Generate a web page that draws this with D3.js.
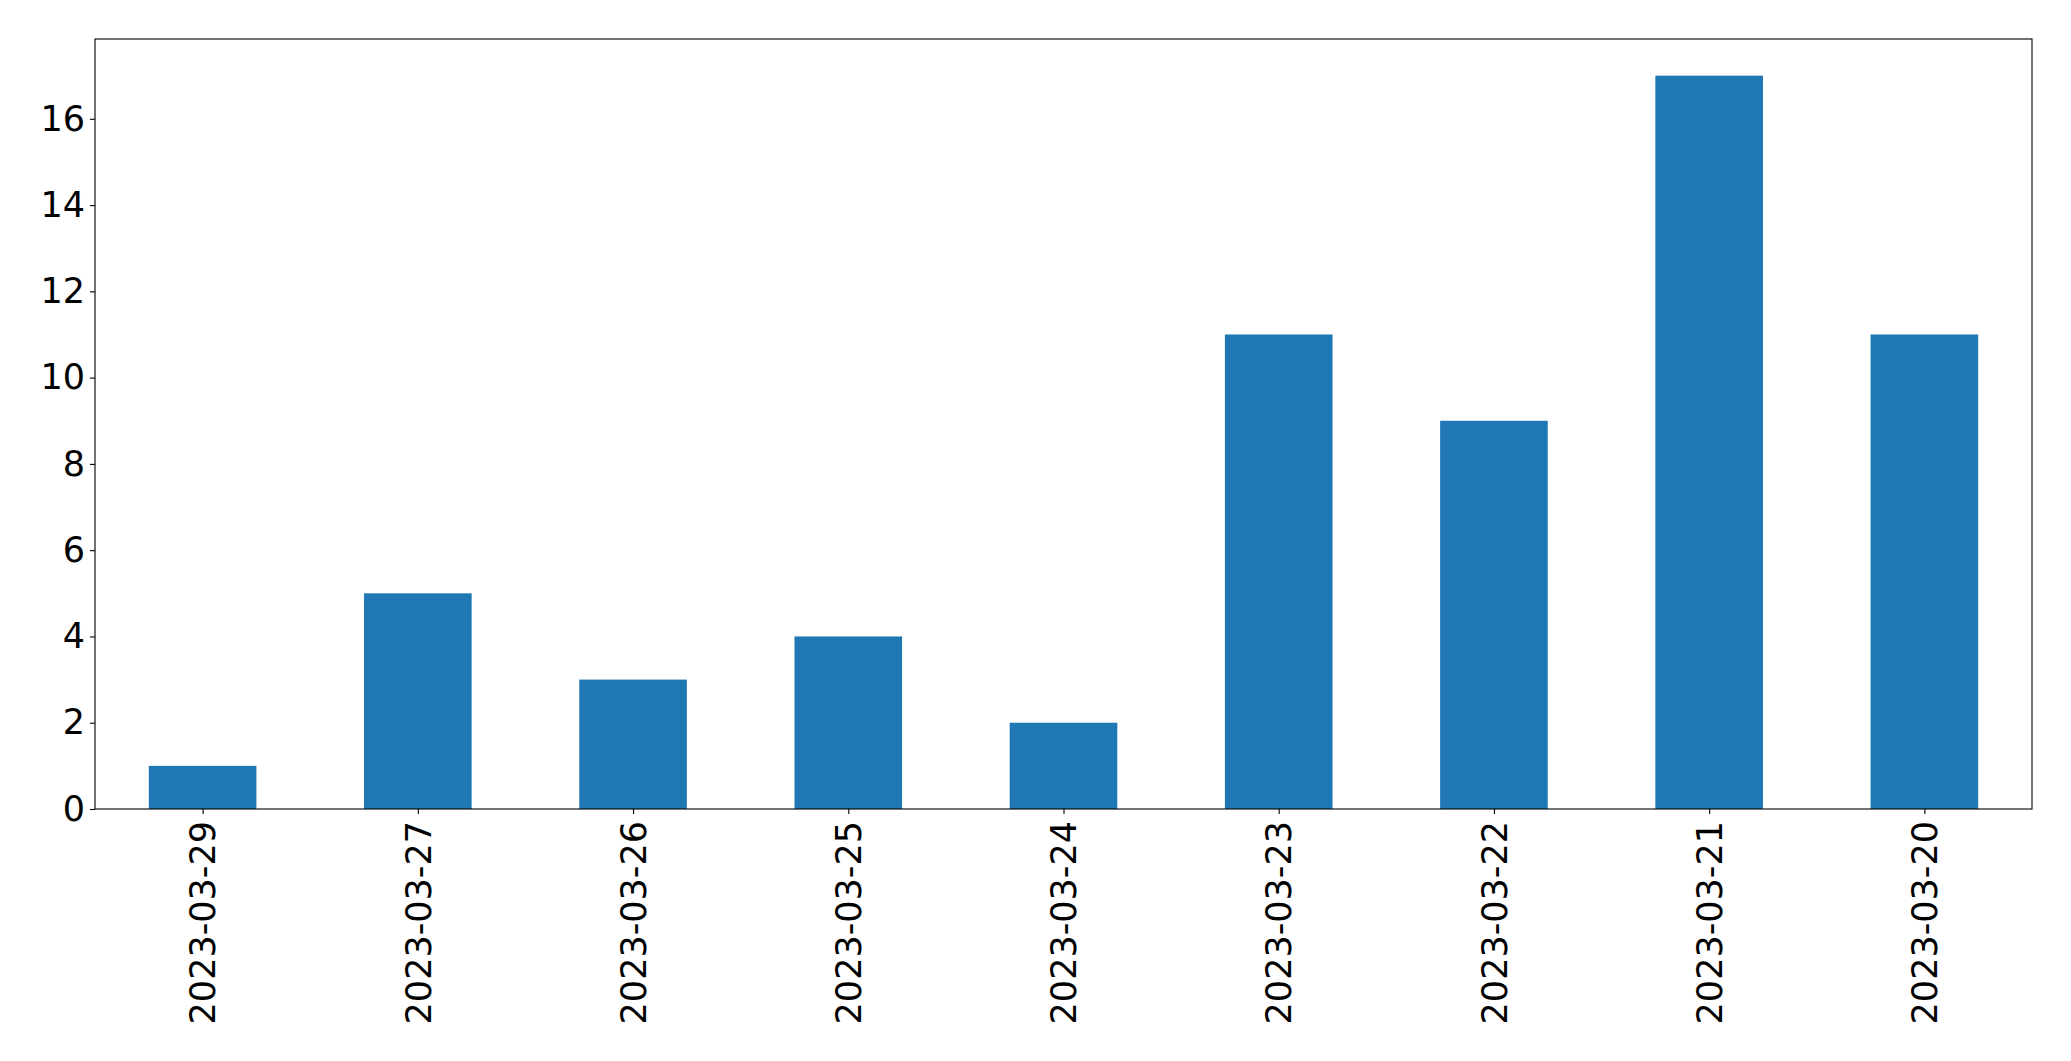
<!DOCTYPE html>
<html>
<head>
<meta charset="utf-8">
<script src="https://cdn.jsdelivr.net/npm/d3@7"></script>
<style>
  html, body { margin: 0; padding: 0; background: #fff; }
  svg { display: block; }
  text { font-family: "DejaVu Sans", sans-serif; fill: #000; }
</style>
</head>
<body>
<svg id="chart" width="2071" height="1061"></svg>
<script>
const categories = ["2023-03-29","2023-03-27","2023-03-26","2023-03-25","2023-03-24","2023-03-23","2023-03-22","2023-03-21","2023-03-20"];
const values = [1, 5, 3, 4, 2, 11, 9, 17, 11];
const yTicks = [0, 2, 4, 6, 8, 10, 12, 14, 16];

const W = 2071, H = 1061;
const margin = {left: 95, right: 39, top: 39, bottom: 252};
const svg = d3.select("#chart");
const iw = W - margin.left - margin.right;
const ih = H - margin.top - margin.bottom;
const g = svg.append("g").attr("transform", `translate(${margin.left},${margin.top})`);

const x = d3.scaleLinear().domain([-0.5, categories.length - 0.5]).range([0, iw]);
const yMax = d3.max(values) * 1.05;
const y = d3.scaleLinear().domain([0, yMax]).range([ih, 0]);
const bw = x(0.5) - x(0);

g.selectAll("rect.bar").data(values).join("rect")
  .attr("class", "bar")
  .attr("x", (d, i) => x(i) - bw / 2)
  .attr("width", bw)
  .attr("y", d => y(d))
  .attr("height", d => y(0) - y(d))
  .attr("fill", "#1f77b4");

const fs = 35;
// Y axis
const yAxis = d3.axisLeft(y).tickValues(yTicks).tickSize(5).tickPadding(5).tickFormat(d3.format("d"));
const ya = g.append("g").call(yAxis);
ya.select(".domain").remove();
ya.selectAll("line").attr("stroke", "#000").attr("stroke-width", 1.1);
ya.selectAll("text").style("font-size", fs + "px").attr("font-family", "DejaVu Sans");

// X axis
const xAxis = d3.axisBottom(x).tickValues(d3.range(categories.length)).tickSize(5).tickFormat(i => categories[i]);
const xa = g.append("g").attr("transform", `translate(0,${ih})`).call(xAxis);
xa.select(".domain").remove();
xa.selectAll("line").attr("stroke", "#000").attr("stroke-width", 1.1);
xa.selectAll("text")
  .style("font-size", fs + "px")
  .attr("font-family", "DejaVu Sans")
  .attr("text-anchor", "end")
  .attr("transform", "rotate(-90)")
  .attr("x", -12)
  .attr("y", 0)
  .attr("dy", "0.35em");

// Frame
g.append("rect").attr("x", 0).attr("y", 0).attr("width", iw).attr("height", ih)
  .attr("fill", "none").attr("stroke", "#000").attr("stroke-width", 1.1);
</script>
</body>
</html>
